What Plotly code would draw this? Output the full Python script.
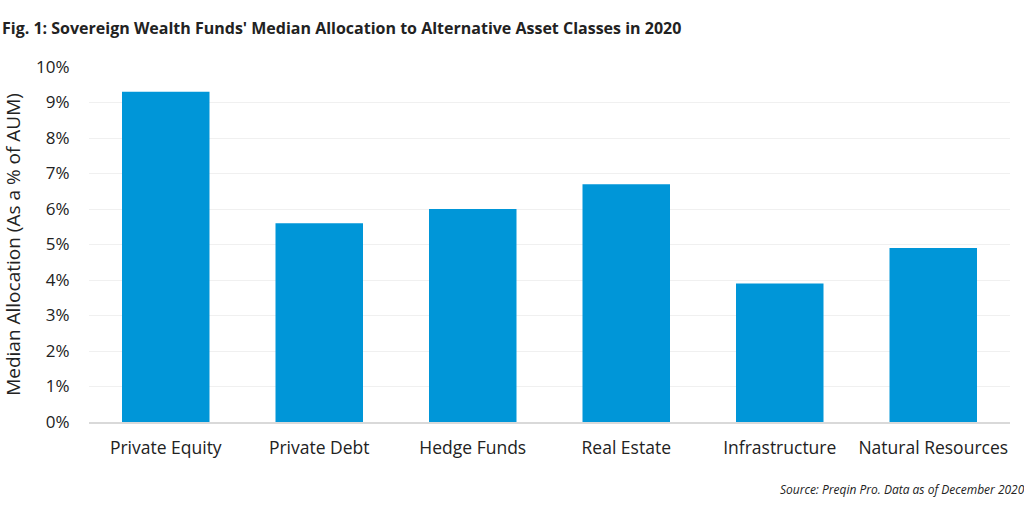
import plotly.graph_objects as go

categories = ["Private Equity", "Private Debt", "Hedge Funds", "Real Estate", "Infrastructure", "Natural Resources"]
values = [9.3, 5.6, 6.0, 6.7, 3.9, 4.9]
tick_vals = [0, 1, 2, 3, 4, 5, 6, 7, 8, 9, 10]
tick_text = [f"{v}%" for v in tick_vals]

fig = go.Figure(go.Bar(x=categories, y=values, marker=dict(color="#0096d8", line=dict(width=0))))

font = "Open Sans"
fig.update_layout(
    width=1024, height=512,
    margin=dict(l=89, r=14, t=67, b=90),
    paper_bgcolor="white", plot_bgcolor="white",
    bargap=0.43,
    showlegend=False,
    font=dict(family=font, color="#222222", size=17),
    xaxis=dict(showgrid=False, ticks="outside", ticklen=9, tickcolor="rgba(0,0,0,0)",
               tickfont=dict(size=17.5, color="#222222"), showline=True, linecolor="#d9d9d9", linewidth=2),
    yaxis=dict(range=[0, 10], tickvals=tick_vals, ticktext=tick_text, showgrid=True,
               gridcolor="#f0f0f0", gridwidth=1, zeroline=False, ticks="outside", ticklen=15,
               tickcolor="rgba(0,0,0,0)", tickfont=dict(size=17, color="#222222"),
               title=dict(text="Median Allocation (As a % of AUM)", font=dict(size=19, color="#222222"), standoff=10)),
    annotations=[
        dict(text="<b>Fig. 1: Sovereign Wealth Funds' Median Allocation to Alternative Asset Classes in 2020</b>",
             xref="paper", yref="paper", x=-89/921, y=1+39/355, xanchor="left", yanchor="middle",
             showarrow=False, font=dict(size=16, color="#222222", family=font)),
        dict(text="<i>Source: Preqin Pro. Data as of December 2020</i>",
             xref="paper", yref="paper", x=1+17/921, y=-67/355, xanchor="right", yanchor="middle",
             showarrow=False, font=dict(size=12, color="#222222", family=font)),
    ],
)
fig.write_html("out.html", config={"displayModeBar": False},
               post_script="document.body.style.margin='0';")
